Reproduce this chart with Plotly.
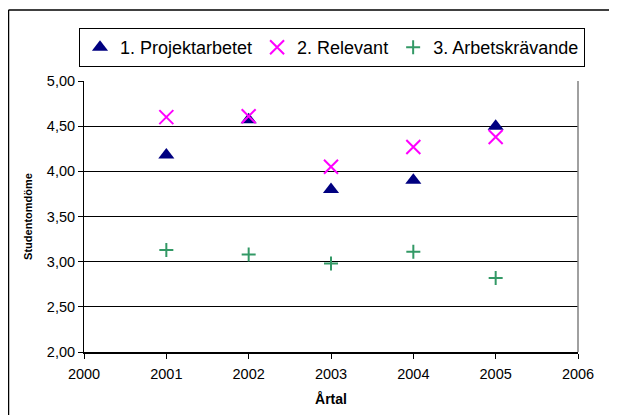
import plotly.graph_objects as go

years = [2001, 2002, 2003, 2004, 2005]
projektarbetet = [4.18, 4.57, 3.80, 3.90, 4.50]
relevant = [4.60, 4.61, 4.05, 4.27, 4.38]
arbetskravande = [3.13, 3.08, 2.98, 3.11, 2.82]
series_names = ["1. Projektarbetet", "2. Relevant", "3. Arbetskrävande"]
y_ticks = [2.0, 2.5, 3.0, 3.5, 4.0, 4.5, 5.0]
y_tick_labels = ["2,00", "2,50", "3,00", "3,50", "4,00", "4,50", "5,00"]
x_ticks = [2000, 2001, 2002, 2003, 2004, 2005, 2006]

FONT = "Liberation Sans, Arial, sans-serif"

fig = go.Figure()
fig.add_trace(go.Scatter(x=years, y=projektarbetet, mode="markers", name=series_names[0],
                         marker=dict(symbol="triangle-up", size=14, color="#000080")))
fig.add_trace(go.Scatter(x=years, y=relevant, mode="markers", name=series_names[1],
                         marker=dict(symbol="x-thin", size=14, color="#FF00FF",
                                     line=dict(color="#FF00FF", width=2))))
fig.add_trace(go.Scatter(x=years, y=arbetskravande, mode="markers", name=series_names[2],
                         marker=dict(symbol="cross-thin", size=10, color="#339966",
                                     line=dict(color="#339966", width=2))))

# page has an 8px body margin, so the figure is drawn offset by 8px
OFF = 8
W, H = 617 - OFF, 415 - OFF
L, R, T, B = 84 - OFF, 578 - OFF, 81 - OFF, 352 - OFF
pw, ph = R - L, B - T

def px_x(x):
    return (x - OFF - L) / pw

def px_y(y):
    return (B - (y - OFF)) / ph

shapes = [
    # outer chart frame (top and left visible)
    dict(type="line", xref="paper", yref="paper", x0=px_x(8.5), x1=px_x(630), y0=px_y(10), y1=px_y(10),
         line=dict(color="black", width=1.5)),
    dict(type="line", xref="paper", yref="paper", x0=px_x(8.5), x1=px_x(8.5), y0=px_y(10), y1=px_y(430),
         line=dict(color="black", width=1.5)),
    # plot area right edge
    dict(type="line", xref="paper", yref="paper", x0=1, x1=1, y0=0, y1=1,
         line=dict(color="#808080", width=1.5)),
]

fig.update_layout(
    width=W, height=H,
    margin=dict(l=L, r=W - R, t=T, b=H - B, autoexpand=False),
    paper_bgcolor="white", plot_bgcolor="white",
    font=dict(family=FONT, color="black", size=14),
    showlegend=True,
    legend=dict(orientation="h", x=px_x(79), xanchor="left", y=px_y(28), yanchor="top",
                bordercolor="black", borderwidth=1, bgcolor="white",
                font=dict(size=18, family=FONT), itemwidth=30),
    shapes=shapes,
    xaxis=dict(range=[2000, 2006], tickvals=x_ticks, ticktext=[str(v) for v in x_ticks],
               showgrid=False, zeroline=False, showline=True, linecolor="black", linewidth=2,
               ticks="outside", ticklen=5, tickcolor="black", tickfont=dict(size=14.5),
               ticklabelstandoff=3, automargin=False,
               title=dict(text="<b>Årtal</b>", font=dict(size=14), standoff=13)),
    yaxis=dict(range=[2.0, 5.0], tickvals=y_ticks, ticktext=y_tick_labels,
               showgrid=True, gridcolor="black", gridwidth=1, zeroline=False,
               showline=True, linecolor="black", linewidth=1, automargin=False,
               ticks="outside", ticklen=5, tickcolor="black", tickfont=dict(size=14.5),
               title=dict(text="<b>Studentomdöme</b>", font=dict(size=11), standoff=12)),
)

fig.write_html("out.html")
